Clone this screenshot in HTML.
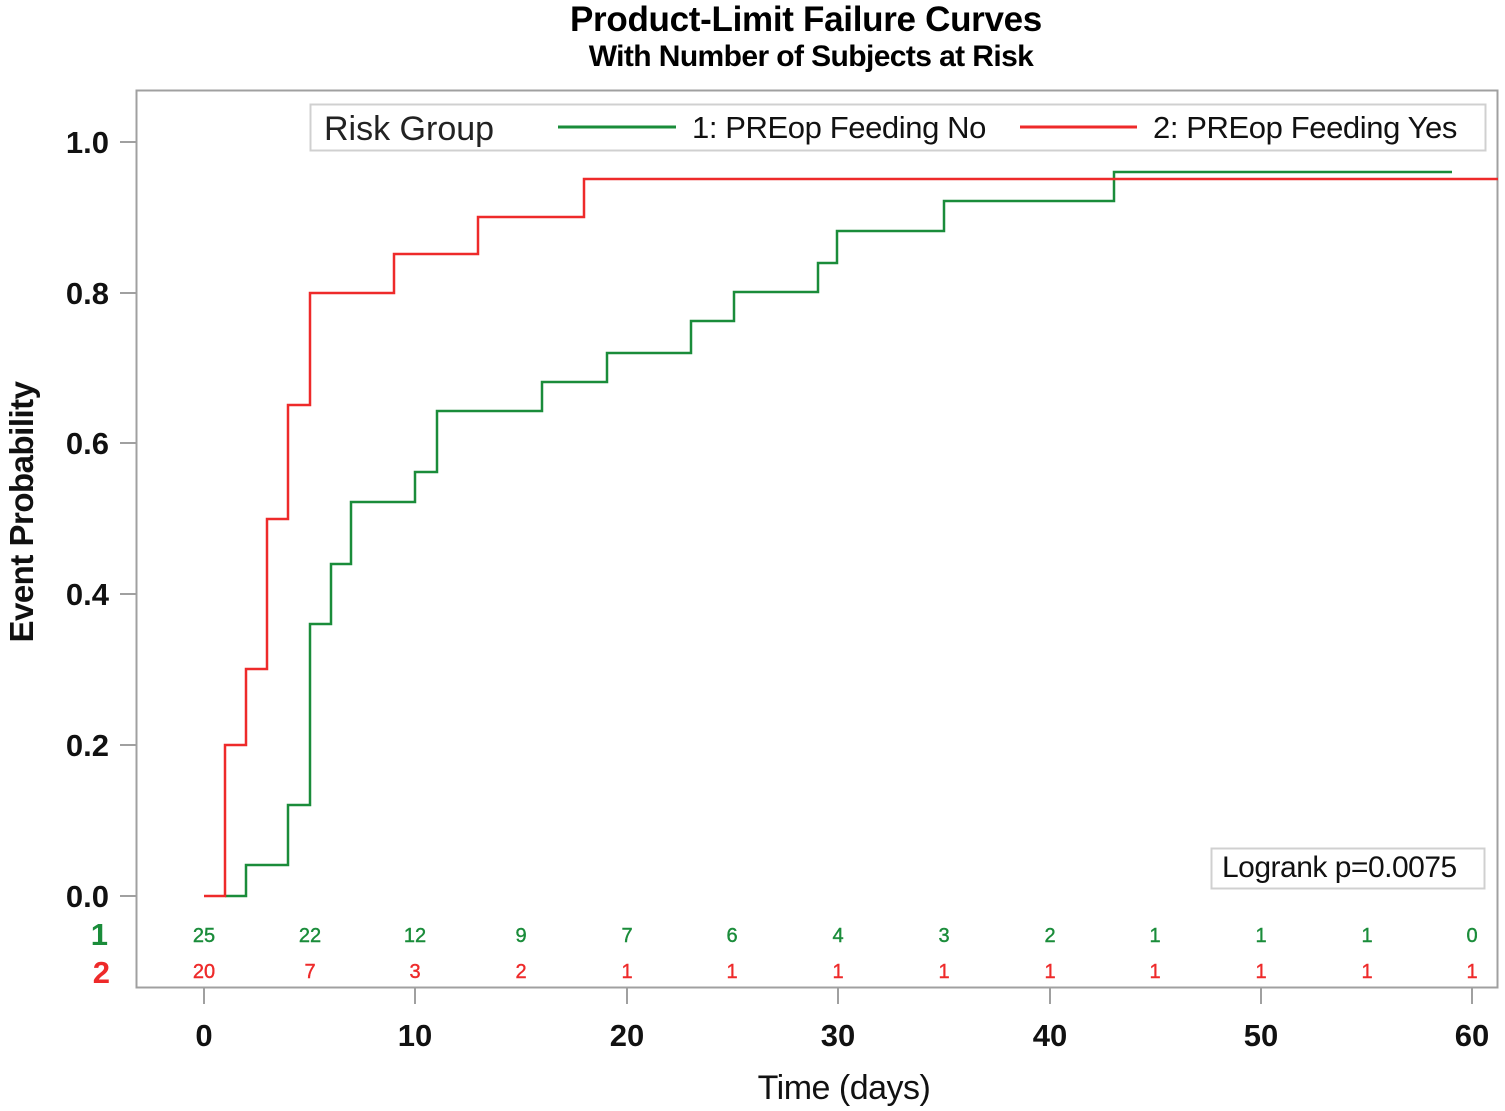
<!DOCTYPE html>
<html><head><meta charset="utf-8"><style>
html,body{margin:0;padding:0;background:#fff;}
svg{display:block;font-family:"Liberation Sans",Arial,sans-serif;}
</style></head><body>
<svg width="1505" height="1111" viewBox="0 0 1505 1111" xmlns="http://www.w3.org/2000/svg">
<text x="806" y="31" font-size="35" font-weight="bold" text-anchor="middle" letter-spacing="-0.3">Product-Limit Failure Curves</text>
<text x="811" y="66" font-size="30" font-weight="bold" text-anchor="middle" letter-spacing="-0.6">With Number of Subjects at Risk</text>
<rect x="136.5" y="90.5" width="1361" height="897" fill="none" stroke="#a0a0a0" stroke-width="2"/>
<rect x="310.5" y="104.5" width="1175" height="46" fill="none" stroke="#d0d0d0" stroke-width="2"/>
<text x="324" y="140" font-size="34" fill="#222">Risk Group</text>
<line x1="558" y1="127" x2="676" y2="127" stroke="#1a8c3a" stroke-width="3"/>
<text x="692" y="138" font-size="31" fill="#111" letter-spacing="-0.4">1: PREop Feeding No</text>
<line x1="1020" y1="127" x2="1137" y2="127" stroke="#ee2a2a" stroke-width="3"/>
<text x="1153" y="138" font-size="31" fill="#111" letter-spacing="-0.4">2: PREop Feeding Yes</text>
<g stroke="#a0a0a0" stroke-width="2">
<line x1="120" y1="896" x2="136" y2="896"/><line x1="120" y1="745" x2="136" y2="745"/>
<line x1="120" y1="594" x2="136" y2="594"/><line x1="120" y1="443" x2="136" y2="443"/>
<line x1="120" y1="293" x2="136" y2="293"/><line x1="120" y1="142" x2="136" y2="142"/>
<line x1="204" y1="988" x2="204" y2="1004"/><line x1="415" y1="988" x2="415" y2="1004"/>
<line x1="627" y1="988" x2="627" y2="1004"/><line x1="838" y1="988" x2="838" y2="1004"/>
<line x1="1050" y1="988" x2="1050" y2="1004"/><line x1="1261" y1="988" x2="1261" y2="1004"/>
<line x1="1472" y1="988" x2="1472" y2="1004"/>
</g>
<g font-size="31" font-weight="bold" text-anchor="end" fill="#111">
<text x="109" y="907">0.0</text><text x="109" y="756">0.2</text><text x="109" y="605">0.4</text>
<text x="109" y="454">0.6</text><text x="109" y="304">0.8</text><text x="109" y="153">1.0</text>
</g>
<g font-size="31" font-weight="bold" text-anchor="middle" fill="#111">
<text x="204" y="1046">0</text><text x="415" y="1046">10</text><text x="627" y="1046">20</text>
<text x="838" y="1046">30</text><text x="1050" y="1046">40</text><text x="1261" y="1046">50</text>
<text x="1472" y="1046">60</text>
</g>
<text x="844" y="1099" font-size="34" text-anchor="middle" fill="#111" letter-spacing="-0.5">Time (days)</text>
<text transform="translate(33,512) rotate(-90)" font-size="33" font-weight="bold" text-anchor="middle" fill="#111" letter-spacing="-0.5">Event Probability</text>
<text x="108" y="945" font-size="31" font-weight="bold" fill="#1a8c3a" text-anchor="end">1</text>
<text x="110" y="983" font-size="31" font-weight="bold" fill="#ee2a2a" text-anchor="end">2</text>
<g font-size="20" text-anchor="middle" fill="#1a8c3a" stroke="#1a8c3a" stroke-width="0.4">
<text x="204" y="942">25</text><text x="310" y="942">22</text><text x="415" y="942">12</text><text x="521" y="942">9</text>
<text x="627" y="942">7</text><text x="732" y="942">6</text><text x="838" y="942">4</text><text x="944" y="942">3</text>
<text x="1050" y="942">2</text><text x="1155" y="942">1</text><text x="1261" y="942">1</text><text x="1367" y="942">1</text><text x="1472" y="942">0</text>
</g>
<g font-size="20" text-anchor="middle" fill="#ee2a2a" stroke="#ee2a2a" stroke-width="0.4">
<text x="204" y="978">20</text><text x="310" y="978">7</text><text x="415" y="978">3</text><text x="521" y="978">2</text>
<text x="627" y="978">1</text><text x="732" y="978">1</text><text x="838" y="978">1</text><text x="944" y="978">1</text>
<text x="1050" y="978">1</text><text x="1155" y="978">1</text><text x="1261" y="978">1</text><text x="1367" y="978">1</text><text x="1472" y="978">1</text>
</g>
<rect x="1211.5" y="848.5" width="273" height="40" fill="#fff" stroke="#d0d0d0" stroke-width="2"/>
<text x="1222" y="877" font-size="30" fill="#111" letter-spacing="-0.5">Logrank p=0.0075</text>
<polyline fill="none" stroke="#1a8c3a" stroke-width="2.5" points="225,896 246,896 246,865 288,865 288,805 310,805 310,624 331,624 331,564 351,564 351,502 415,502 415,472 437,472 437,411 542,411 542,382 607,382 607,353 691,353 691,321 734,321 734,292 818,292 818,263 837,263 837,231 944,231 944,201 1114,201 1114,172 1452,172"/>
<polyline fill="none" stroke="#ee2a2a" stroke-width="2.5" points="204,896 225,896 225,745 246,745 246,669 267,669 267,519 288,519 288,405 310,405 310,293 394,293 394,254 478,254 478,217 584,217 584,179 1498,179"/>
</svg>
</body></html>
